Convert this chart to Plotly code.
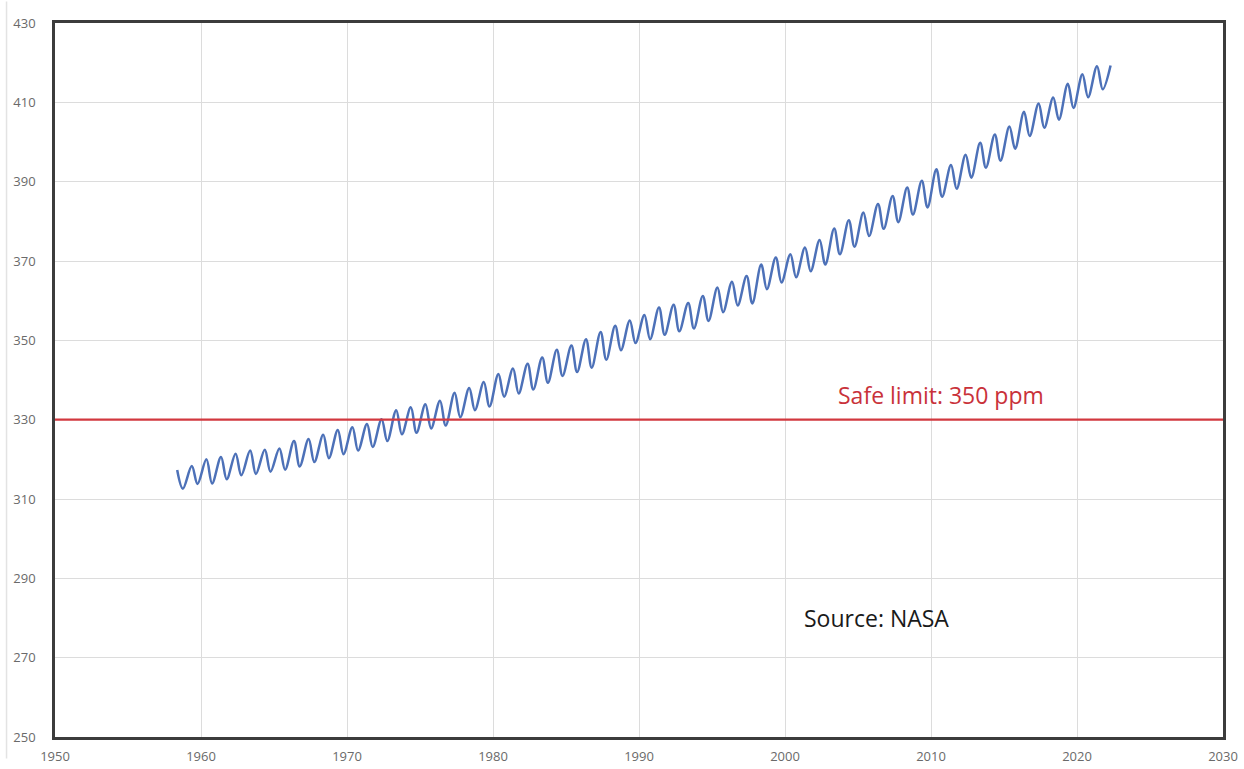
import plotly.graph_objects as go

# ---- data (seasonal peaks ~May, troughs ~Oct) ----
years = list(range(1958, 2022))
peaks = [317.3, 318.3, 320.0, 320.6, 321.4, 322.2, 322.4, 322.7, 324.6, 325.1,
         326.2, 327.4, 328.1, 328.9, 330.1, 332.4, 333.1, 333.9, 334.8, 336.8,
         338.0, 339.5, 341.5, 342.9, 344.1, 345.7, 347.6, 348.7, 350.3, 352.1,
         353.7, 355.0, 356.4, 358.3, 359.0, 359.4, 361.2, 363.3, 364.8, 366.2,
         369.1, 370.9, 371.7, 373.4, 375.3, 378.2, 380.3, 382.2, 384.4, 386.4,
         388.5, 390.2, 393.1, 394.2, 396.8, 399.8, 401.9, 403.9, 407.6, 409.7,
         411.2, 414.7, 417.1, 419.1]
troughs = [312.6, 313.8, 313.9, 315.0, 316.0, 316.3, 316.9, 317.4, 318.2, 319.3,
           320.3, 321.3, 322.2, 323.1, 324.6, 326.3, 326.7, 327.8, 328.5, 330.6,
           332.4, 333.3, 335.8, 336.6, 337.6, 339.3, 341.0, 342.0, 343.1, 345.1,
           347.5, 349.3, 350.3, 351.4, 352.3, 353.0, 354.9, 357.1, 358.8, 359.3,
           362.9, 364.6, 365.9, 367.4, 369.1, 371.7, 373.6, 376.3, 378.1, 379.8,
           381.7, 383.5, 386.2, 388.2, 391.0, 393.5, 395.3, 398.3, 401.5, 403.6,
           405.6, 408.6, 411.3, 413.3]
end_time = 2022.3
end_value = 419.3

SAFE_LINE = 330
x_ticks = [1950, 1960, 1970, 1980, 1990, 2000, 2010, 2020, 2030]
y_ticks = [250, 270, 290, 310, 330, 350, 370, 390, 410, 430]

# build the series in time order
t, v = [], []
for yr, pk, tr in zip(years, peaks, troughs):
    t += [yr + 0.37, yr + 0.76]
    v += [pk, tr]
t.append(end_time)
v.append(end_value)

fig = go.Figure()
fig.add_trace(go.Scatter(
    x=t, y=v, mode="lines",
    line=dict(color="#4d71b8", width=2.5, shape="spline", smoothing=1.0),
    hoverinfo="skip", showlegend=False))

fig.add_shape(type="line", xref="paper", x0=0, x1=1, yref="y",
              y0=SAFE_LINE, y1=SAFE_LINE,
              line=dict(color="#d2383f", width=2.2))
# faint image border at far left
fig.add_shape(type="line", xref="paper", x0=-0.0415, x1=-0.0415,
              yref="paper", y0=-0.03, y1=1.03,
              line=dict(color="#e3e3e3", width=1.5))

fig.add_annotation(x=2010.7, y=SAFE_LINE + 6.3, text="Safe limit: 350 ppm",
                   showarrow=False, font=dict(color="#c9323a", size=23,
                                              family="Open Sans"))
fig.add_annotation(x=2006.3, y=280, text="Source: NASA", showarrow=False,
                   font=dict(color="#1a1a1a", size=23, family="Open Sans"))

axis_common = dict(showgrid=True, gridcolor="#dcdcdc", gridwidth=1,
                   showline=True, mirror=True, linecolor="#3c3c3c",
                   linewidth=2.5, zeroline=False, automargin=False,
                   ticks="outside", tickcolor="rgba(0,0,0,0)",
                   tickfont=dict(color="#6a6a6a", size=13, family="Open Sans"))

fig.update_xaxes(range=[1950, 2030], tickvals=x_ticks, ticklen=6,
                 **axis_common)
fig.update_yaxes(range=[250, 430], tickvals=y_ticks, ticklen=14,
                 **axis_common)

fig.update_layout(
    width=1244, height=769,
    margin=dict(l=55, r=21, t=23, b=32),
    paper_bgcolor="white", plot_bgcolor="white",
    font=dict(family="Open Sans"),
)

# remove the default page margin so the figure fills the window exactly
fig.write_html("out.html",
               config={"displayModeBar": False},
               post_script="document.body.style.margin='0';"
                           "document.body.style.overflow='hidden';")
